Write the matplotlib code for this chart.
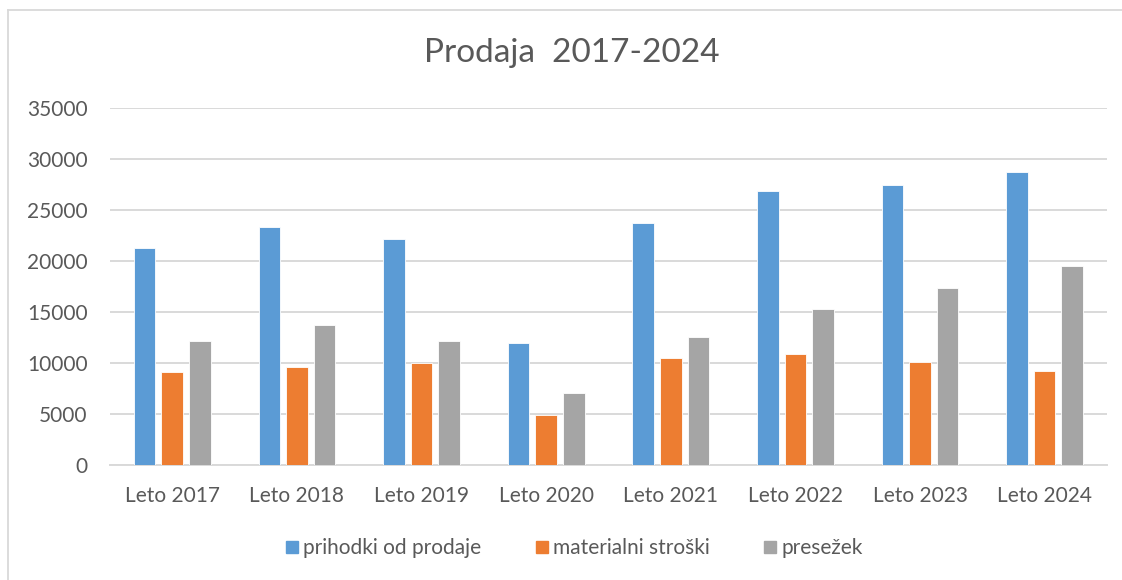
import matplotlib.pyplot as plt
import numpy as np
from matplotlib.lines import Line2D

years = ["Leto 2017", "Leto 2018", "Leto 2019", "Leto 2020",
         "Leto 2021", "Leto 2022", "Leto 2023", "Leto 2024"]
prihodki = [21250, 23330, 22150, 11950, 23750, 26880, 27450, 28750]
stroski = [9080, 9650, 10030, 4920, 10470, 10860, 10070, 9220]
presezek = [12130, 13680, 12130, 7030, 12530, 15280, 17340, 19480]

series_names = ["prihodki od prodaje", "materialni stroški", "presežek"]
colors = ["#5B9BD5", "#ED7D31", "#A5A5A5"]
text_col = "#595959"
grid_col = "#D9D9D9"

plt.rcParams['font.family'] = ['Lato', 'DejaVu Sans']

fig = plt.figure(figsize=(11.22, 5.80), dpi=100)
ax = fig.add_axes([0.098, 0.1983, 0.8886, 0.6155])

x = np.arange(len(years))
width = 0.173
pitch = 0.2215
for i, (vals, name, col) in enumerate(zip([prihodki, stroski, presezek], series_names, colors)):
    ax.bar(x + (i - 1) * pitch, vals, width=width, color=col, label=name,
           edgecolor='white', linewidth=0.6, zorder=3)

ax.set_xlim(-0.5, len(years) - 0.5)
ax.set_ylim(0, 35000)
ax.set_yticks(range(0, 35001, 5000))
ax.set_xticks(x)
ax.set_xticklabels(years)
ax.yaxis.grid(True, color=grid_col, linewidth=1.4, zorder=0)
ax.tick_params(axis='both', length=0, labelsize=15, colors=text_col)
ax.tick_params(axis='y', pad=16)
ax.tick_params(axis='x', pad=15)
for s in ['top', 'right', 'left']:
    ax.spines[s].set_visible(False)
ax.spines['bottom'].set_color(grid_col)
ax.spines['bottom'].set_linewidth(1.4)

fig.text(0.51, 0.908, "Prodaja  2017-2024", ha='center', va='center',
         fontsize=24, color=text_col)

handles = [Line2D([], [], marker='s', linestyle='', markersize=9,
                  markerfacecolor=c, markeredgecolor=c) for c in colors]
fig.legend(handles, series_names, loc='center', bbox_to_anchor=(0.512, 0.055),
           ncol=3, frameon=False, fontsize=15, labelcolor=text_col,
           handlelength=0.6, handletextpad=0.25, columnspacing=2.6)

# outer chart border (top and left edges visible)
fig.add_artist(Line2D([8 / 1122, 1], [1 - 10 / 580, 1 - 10 / 580],
                      transform=fig.transFigure, color=grid_col, linewidth=1.3))
fig.add_artist(Line2D([8 / 1122, 8 / 1122], [0, 1 - 10 / 580],
                      transform=fig.transFigure, color=grid_col, linewidth=1.3))

fig.savefig("out.png", dpi=100, facecolor='white')
